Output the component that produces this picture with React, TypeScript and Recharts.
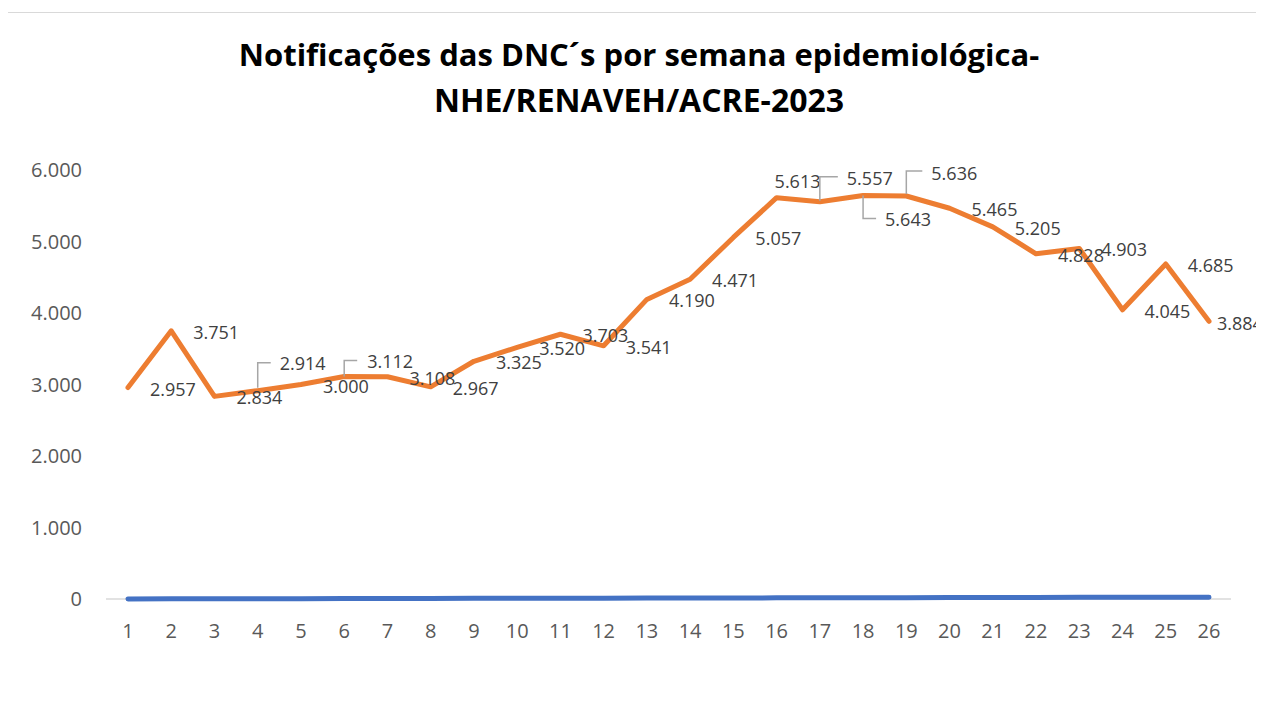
import React from 'react';
import { LabelList, Line, LineChart, ReferenceLine, XAxis, YAxis } from 'recharts';

const WEEKS = ['1', '2', '3', '4', '5', '6', '7', '8', '9', '10', '11', '12', '13', '14', '15', '16', '17', '18', '19', '20', '21', '22', '23', '24', '25', '26'];
const NOTIFICACOES = [2957, 3751, 2834, 2914, 3000, 3112, 3108, 2967, 3325, 3520, 3703, 3541, 4190, 4471, 5057, 5613, 5557, 5643, 5636, 5465, 5205, 4828, 4903, 4045, 4685, 3884];
// the second series is the week column itself, plotted close to zero
const SEMANA_SERIE = [1, 2, 3, 4, 5, 6, 7, 8, 9, 10, 11, 12, 13, 14, 15, 16, 17, 18, 19, 20, 21, 22, 23, 24, 25, 26];
const Y_TICKS = [0, 1000, 2000, 3000, 4000, 5000, 6000];
const TITLE_LINES = ['Notificações das DNC´s por semana epidemiológica-', 'NHE/RENAVEH/ACRE-2023'];

const FONT = "'Open Sans', 'Noto Sans', sans-serif";

// labels Excel moved off the default right-hand spot (dx/dy of the text, leader path if any)
const LABEL_MOVES: Record<number, { dx: number; dy: number; leader?: [number, number, number] }> = {
  3: { dx: 22, dy: -28, leader: [-3, -28, 13] },
  5: { dx: 23, dy: -15, leader: [0, -16, 13] },
  15: { dx: -2, dy: -17 },
  16: { dx: 27, dy: -24, leader: [-1, -25, 18] },
  17: { dx: 22, dy: 23, leader: [0, 23, 13] },
  18: { dx: 25, dy: -23, leader: [-2, -25, 16] },
  25: { dx: 8, dy: 2 },
};

const fmt = (n: number) => String(n).replace(/\B(?=(\d{3})+(?!\d))/g, '.');

const data = WEEKS.map((week, i) => ({
  week,
  notificacoes: NOTIFICACOES[i],
  semana: SEMANA_SERIE[i],
}));

const PointLabel = (props: any) => {
  const { x, y, value, index } = props;
  const move = LABEL_MOVES[index] ?? { dx: 22, dy: 1 };
  return (
    <g>
      {move.leader && (
        <path
          d={`M${x},${y + move.leader[0]}V${y + move.leader[1]}H${x + move.leader[2]}`}
          stroke="#a6a6a6"
          strokeWidth={1.5}
          fill="none"
        />
      )}
      <text
        x={x + move.dx}
        y={y + move.dy}
        fill="#404040"
        fontSize={18}
        fontFamily={FONT}
        dominantBaseline="central"
        textAnchor="start"
      >
        {fmt(value)}
      </text>
    </g>
  );
};

export default function App() {
  return (
    <div
      style={{
        position: 'relative',
        top: 4,
        left: -1,
        width: 1255,
        height: 690,
        borderTop: '1px solid #d9d9d9',
        borderLeft: '1px solid #d9d9d9',
        background: '#fff',
      }}
    >
      <div
        style={{
          position: 'absolute',
          left: 0,
          top: 19,
          width: 1262,
          textAlign: 'center',
          fontFamily: FONT,
          fontWeight: 700,
          lineHeight: '45px',
          color: '#000',
        }}
      >
        <div style={{ fontSize: 31 }}>{TITLE_LINES[0]}</div>
        <div style={{ fontSize: 32 }}>{TITLE_LINES[1]}</div>
      </div>
      <LineChart width={1256} height={690} data={data} margin={{ top: 157, right: 33, left: 18, bottom: 64 }}>
        <XAxis
          dataKey="week"
          interval={0}
          height={40}
          padding={{ left: 22, right: 22 }}
          axisLine={false}
          tickLine={false}
          tickMargin={19}
          tick={{ fill: '#595959', fontSize: 20, fontFamily: FONT }}
        />
        <YAxis
          domain={[0, 6000]}
          ticks={Y_TICKS}
          width={80}
          axisLine={false}
          tickLine={false}
          tickMargin={18}
          tickFormatter={fmt}
          tick={{ fill: '#595959', fontSize: 20, fontFamily: FONT }}
        />
        <ReferenceLine y={0} stroke="#d9d9d9" strokeWidth={1.5} zIndex={-50} />
        <Line
          dataKey="semana"
          stroke="#4472c4"
          strokeWidth={5}
          strokeLinecap="round"
          strokeLinejoin="round"
          dot={false}
          isAnimationActive={false}
        />
        <Line
          dataKey="notificacoes"
          stroke="#ed7d31"
          strokeWidth={5}
          strokeLinecap="round"
          strokeLinejoin="round"
          dot={false}
          isAnimationActive={false}
        >
          <LabelList dataKey="notificacoes" content={PointLabel} />
        </Line>
      </LineChart>
    </div>
  );
}
